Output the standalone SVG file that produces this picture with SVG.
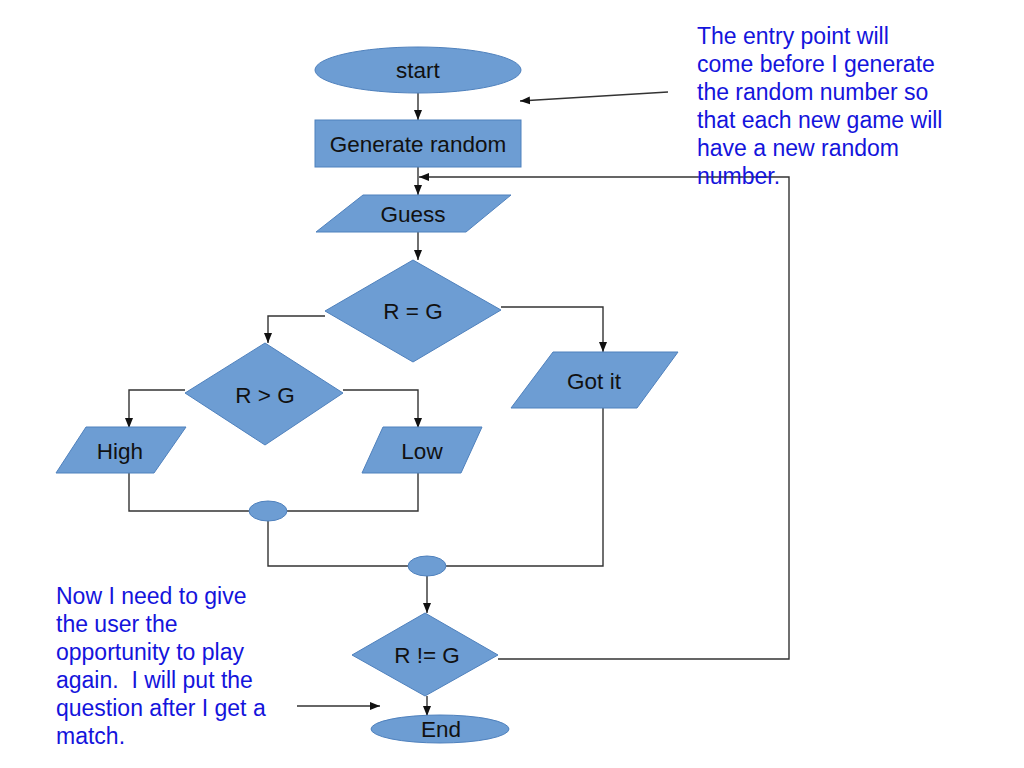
<svg xmlns="http://www.w3.org/2000/svg" width="1024" height="768" viewBox="0 0 1024 768">
<style>
.n{fill:#6d9dd3;stroke:#4f81bd;stroke-width:1}
.t{font-family:"Liberation Sans",Arial,sans-serif;font-size:22.5px;fill:#111;text-anchor:middle;dominant-baseline:central}
.c{fill:none;stroke:#333;stroke-width:1.4}
.note{font-family:"Liberation Sans",Arial,sans-serif;font-size:23px;fill:#1414dc}
</style>
<defs>
<marker id="ah" markerUnits="userSpaceOnUse" markerWidth="10" markerHeight="10" viewBox="0 0 10 10" refX="10" refY="5" orient="auto">
<path d="M0,1 L10,5 L0,9 Z" fill="#111"/>
</marker>
</defs>
<rect width="1024" height="768" fill="#fff"/>
<g id="connectors">
<path class="c" d="M418,93 V120" marker-end="url(#ah)"/>
<path class="c" d="M418,167 V195" marker-end="url(#ah)"/>
<path class="c" d="M418,232 V260" marker-end="url(#ah)"/>
<path class="c" d="M325,316 H268 V343" marker-end="url(#ah)"/>
<path class="c" d="M501,307 H603 V352" marker-end="url(#ah)"/>
<path class="c" d="M185,390 H129 V428" marker-end="url(#ah)"/>
<path class="c" d="M343,390 H418 V428" marker-end="url(#ah)"/>
<path class="c" d="M129,473 V511 H249"/>
<path class="c" d="M418,473 V511 H287"/>
<path class="c" d="M268,521 V566 H408"/>
<path class="c" d="M603,408 V566 H446"/>
<path class="c" d="M427,576 V613" marker-end="url(#ah)"/>
<path class="c" d="M427,696 V716" marker-end="url(#ah)"/>
<path class="c" d="M498,659 H789 V177 H419" marker-end="url(#ah)"/>
<path class="c" d="M668,92 L520,101" marker-end="url(#ah)"/>
<path class="c" d="M297,706 H380" marker-end="url(#ah)"/>
</g>
<g id="start"><ellipse class="n" cx="418" cy="70" rx="103" ry="23"/><text class="t" x="418" y="70">start</text></g>
<g id="generate"><rect class="n" x="315" y="120" width="206" height="47"/><text class="t" x="418" y="144">Generate random</text></g>
<g id="guess"><polygon class="n" points="363,195 511,195 466,232 316,232"/><text class="t" x="413" y="214">Guess</text></g>
<g id="req"><polygon class="n" points="413,260 501,310 413,362 325,311"/><text class="t" x="413" y="311">R = G</text></g>
<g id="rgt"><polygon class="n" points="265,343 343,393 265,445 185,393"/><text class="t" x="265" y="395">R &gt; G</text></g>
<g id="gotit"><polygon class="n" points="553,352 678,352 637,408 511,408"/><text class="t" x="594" y="381">Got it</text></g>
<g id="high"><polygon class="n" points="86,427 186,427 154,473 56,473"/><text class="t" x="120" y="451">High</text></g>
<g id="low"><polygon class="n" points="383,427 482,427 461,473 362,473"/><text class="t" x="422" y="451">Low</text></g>
<g id="join1"><ellipse class="n" cx="268" cy="511" rx="19" ry="10"/></g>
<g id="join2"><ellipse class="n" cx="427" cy="566" rx="19" ry="10"/></g>
<g id="rne"><polygon class="n" points="425,613 498,655 425,696 352,655"/><text class="t" x="427" y="655">R != G</text></g>
<g id="end"><ellipse class="n" cx="440" cy="729" rx="69" ry="14"/><text class="t" x="441" y="729">End</text></g>
<g id="note-top">
<text class="note" x="697" y="44">The entry point will</text>
<text class="note" x="697" y="72">come before I generate</text>
<text class="note" x="697" y="100">the random number so</text>
<text class="note" x="697" y="128">that each new game will</text>
<text class="note" x="697" y="156">have a new random</text>
<text class="note" x="697" y="184">number.</text>
</g>
<g id="note-left">
<text class="note" x="56" y="604">Now I need to give</text>
<text class="note" x="56" y="632">the user the</text>
<text class="note" x="56" y="660">opportunity to play</text>
<text class="note" x="56" y="688" xml:space="preserve">again.  I will put the</text>
<text class="note" x="56" y="716">question after I get a</text>
<text class="note" x="56" y="744">match.</text>
</g>
</svg>
